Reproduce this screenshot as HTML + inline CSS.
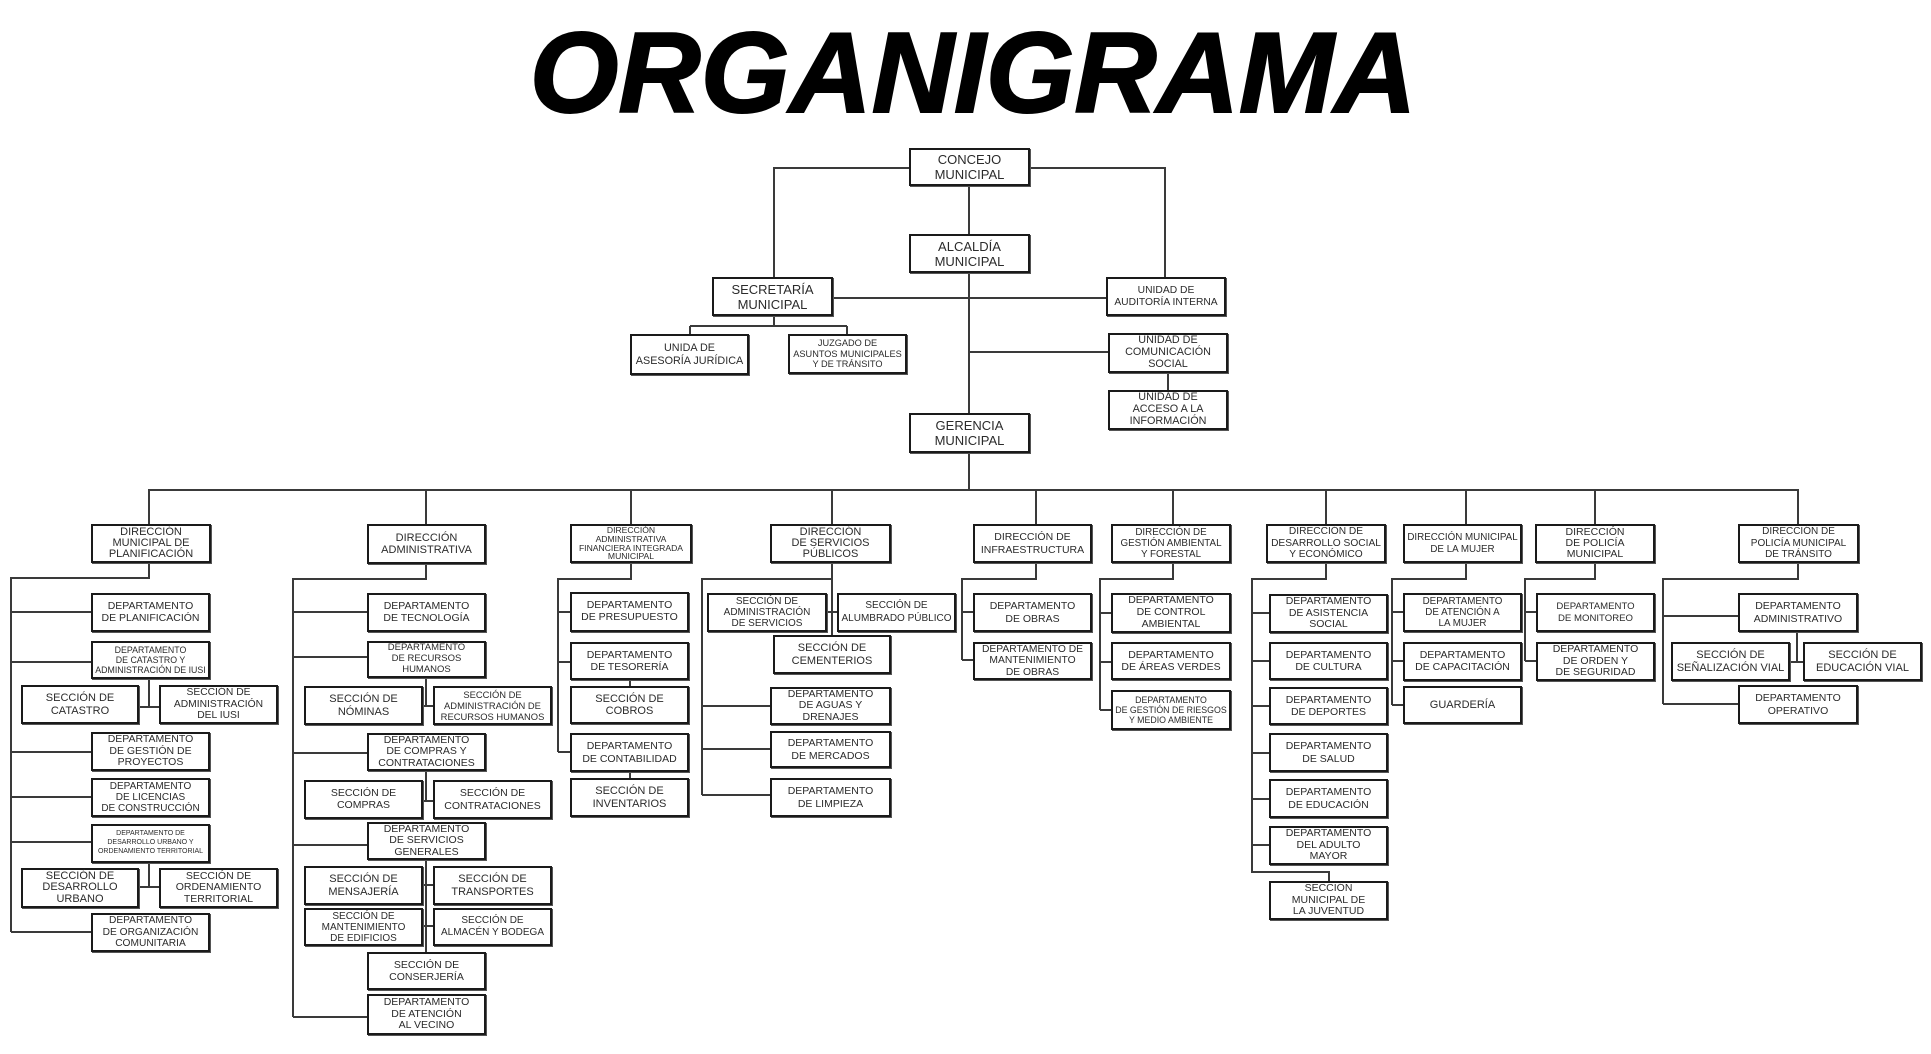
<!DOCTYPE html>
<html><head><meta charset="utf-8">
<style>
html,body{margin:0;padding:0;background:#fff;}
body{width:1931px;height:1054px;position:relative;overflow:hidden;}
.t{position:absolute;left:500px;top:17px;width:946px;text-align:center;font-family:"Liberation Sans",sans-serif;font-weight:bold;font-style:italic;font-size:114px;line-height:114px;color:#000;-webkit-text-stroke:2px #000;letter-spacing:0px;white-space:nowrap;}
.b{position:absolute;box-sizing:border-box;border:2px solid #1a1a1a;background:#fff;display:flex;align-items:center;justify-content:center;text-align:center;font-family:"Liberation Sans",sans-serif;font-size:10.5px;line-height:11.8px;color:#2b2b2b;box-shadow:1px 1px 0 #555;white-space:nowrap;}
.L{font-size:13px;line-height:15px;}
.s{font-size:11px;line-height:12.5px;}
svg{position:absolute;left:0;top:0;}
</style></head><body>
<div class="t">ORGANIGRAMA</div>
<svg width="1931" height="1054" viewBox="0 0 1931 1054">
<g fill="none" stroke="#3a3a3a" stroke-width="2" shape-rendering="crispEdges">
<path d="M909 168 H774 V277 M1030 168 H1165 V277 M969 186 V234 M969 273 V413 M833 298 H1106 M774 316 V326 M690 326 H847 M690 326 V334 M847 326 V334 M969 352 H1108 M1168 373 V390 M969 453 V490 M148 490 H1799"/>
<path d="M149 490 V524 M426 490 V524 M631 490 V524 M832 490 V524 M1036 490 V524 M1173 490 V524 M1326 490 V524 M1466 490 V524 M1595 490 V524 M1798 490 V524"/>
<path d="M149 563 V578 H11 V932 M11 612 H91 M11 662 H91 M11 752 H91 M11 797 H91 M11 842 H91 M11 932 H91 M149 679 V707 M139 707 H159 M149 863 V887 M139 887 H159"/>
<path d="M426 564 V579 H293 V1017 M293 612 H367 M293 657 H367 M293 753 H367 M293 845 H367 M293 1017 H367 M426 678 V706 M423 706 H433 M426 771 V801 M423 801 H433 M426 860 V952 M423 885 H433 M423 926 H433"/>
<path d="M631 563 V579 H558 V752 M558 612 H570 M558 662 H570 M558 752 H570 M630 680 V686 M630 772 V778"/>
<path d="M832 563 V635 M832 579 H702 V795 M702 706 H770 M702 749 H770 M702 795 H770 M827 612 H837"/>
<path d="M1036 563 V579 H962 V660 M962 612 H973 M962 660 H973"/>
<path d="M1173 563 V579 H1100 V710 M1100 613 H1111 M1100 662 H1111 M1100 710 H1111"/>
<path d="M1326 563 V579 H1252 V872 H1329 V881 M1252 613 H1269 M1252 661 H1269 M1252 706 H1269 M1252 753 H1269 M1252 799 H1269 M1252 845 H1269"/>
<path d="M1466 563 V579 H1392 V705 M1392 612 H1403 M1392 661 H1403 M1392 705 H1403"/>
<path d="M1595 563 V579 H1525 V661 M1525 612 H1536 M1525 661 H1536"/>
<path d="M1798 563 V579 H1663 V704 M1663 616 H1738 M1663 704 H1738 M1797 632 V662 M1790 662 H1803"/>
</g></svg>

<!-- top -->
<div class="b L" style="left:909px;top:148px;width:121px;height:38px">CONCEJO<br>MUNICIPAL</div>
<div class="b L" style="left:909px;top:234px;width:121px;height:39px">ALCALDÍA<br>MUNICIPAL</div>
<div class="b L" style="left:712px;top:277px;width:121px;height:39px">SECRETARÍA<br>MUNICIPAL</div>
<div class="b" style="left:1106px;top:277px;width:120px;height:39px;font-size:10.3px">UNIDAD DE<br>AUDITORÍA INTERNA</div>
<div class="b" style="left:630px;top:334px;width:119px;height:41px;font-size:10.8px;line-height:12.5px">UNIDA DE<br>ASESORÍA JURÍDICA</div>
<div class="b" style="left:788px;top:334px;width:119px;height:40px;font-size:9.2px;line-height:10.5px">JUZGADO DE<br>ASUNTOS MUNICIPALES<br>Y DE TRÁNSITO</div>
<div class="b" style="left:1108px;top:333px;width:120px;height:40px;font-size:10.8px;line-height:11.8px">UNIDAD DE<br>COMUNICACIÓN<br>SOCIAL</div>
<div class="b" style="left:1108px;top:390px;width:120px;height:40px;font-size:10.8px;line-height:11.8px">UNIDAD DE<br>ACCESO A LA<br>INFORMACIÓN</div>
<div class="b L" style="left:909px;top:413px;width:121px;height:40px">GERENCIA<br>MUNICIPAL</div>

<!-- col1 -->
<div class="b" style="left:91px;top:524px;width:120px;height:39px;font-size:11px;line-height:11.3px">DIRECCIÓN<br>MUNICIPAL DE<br>PLANIFICACIÓN</div>
<div class="b" style="left:91px;top:593px;width:119px;height:39px">DEPARTAMENTO<br>DE PLANIFICACIÓN</div>
<div class="b" style="left:91px;top:641px;width:119px;height:38px;font-size:8.8px;line-height:10.3px">DEPARTAMENTO<br>DE CATASTRO Y<br>ADMINISTRACIÓN DE IUSI</div>
<div class="b s" style="left:21px;top:685px;width:118px;height:39px">SECCIÓN DE<br>CATASTRO</div>
<div class="b" style="left:159px;top:685px;width:119px;height:39px;font-size:10.3px;line-height:11.5px">SECCIÓN DE<br>ADMINISTRACIÓN<br>DEL IUSI</div>
<div class="b" style="left:91px;top:732px;width:119px;height:39px">DEPARTAMENTO<br>DE GESTIÓN DE<br>PROYECTOS</div>
<div class="b" style="left:91px;top:778px;width:119px;height:39px;font-size:10px;line-height:11.3px">DEPARTAMENTO<br>DE LICENCIAS<br>DE CONSTRUCCIÓN</div>
<div class="b" style="left:91px;top:824px;width:119px;height:39px;font-size:7px;line-height:8.8px">DEPARTAMENTO DE<br>DESARROLLO URBANO Y<br>ORDENAMIENTO TERRITORIAL</div>
<div class="b s" style="left:21px;top:868px;width:118px;height:40px;line-height:11.5px">SECCIÓN DE<br>DESARROLLO<br>URBANO</div>
<div class="b" style="left:159px;top:868px;width:119px;height:40px;line-height:11.5px">SECCIÓN DE<br>ORDENAMIENTO<br>TERRITORIAL</div>
<div class="b" style="left:91px;top:913px;width:119px;height:39px;font-size:10.2px;line-height:11.5px">DEPARTAMENTO<br>DE ORGANIZACIÓN<br>COMUNITARIA</div>

<!-- col2 -->
<div class="b s" style="left:367px;top:524px;width:119px;height:40px">DIRECCIÓN<br>ADMINISTRATIVA</div>
<div class="b" style="left:367px;top:593px;width:119px;height:39px">DEPARTAMENTO<br>DE TECNOLOGÍA</div>
<div class="b" style="left:367px;top:641px;width:119px;height:37px;font-size:9.5px;line-height:10.8px">DEPARTAMENTO<br>DE RECURSOS<br>HUMANOS</div>
<div class="b s" style="left:304px;top:686px;width:119px;height:39px">SECCIÓN DE<br>NÓMINAS</div>
<div class="b" style="left:433px;top:686px;width:119px;height:39px;font-size:9.4px;line-height:11px">SECCIÓN DE<br>ADMINISTRACIÓN DE<br>RECURSOS HUMANOS</div>
<div class="b" style="left:367px;top:733px;width:119px;height:38px;line-height:11.3px">DEPARTAMENTO<br>DE COMPRAS Y<br>CONTRATACIONES</div>
<div class="b" style="left:304px;top:780px;width:119px;height:39px">SECCIÓN DE<br>COMPRAS</div>
<div class="b" style="left:433px;top:780px;width:119px;height:39px;line-height:12.5px">SECCIÓN DE<br>CONTRATACIONES</div>
<div class="b" style="left:367px;top:822px;width:119px;height:38px;line-height:11.3px">DEPARTAMENTO<br>DE SERVICIOS<br>GENERALES</div>
<div class="b s" style="left:304px;top:866px;width:119px;height:39px">SECCIÓN DE<br>MENSAJERÍA</div>
<div class="b s" style="left:433px;top:866px;width:119px;height:39px">SECCIÓN DE<br>TRANSPORTES</div>
<div class="b" style="left:304px;top:908px;width:119px;height:38px;font-size:10px;line-height:11px">SECCIÓN DE<br>MANTENIMIENTO<br>DE EDIFICIOS</div>
<div class="b" style="left:433px;top:908px;width:119px;height:38px;font-size:10px;line-height:12.5px">SECCIÓN DE<br>ALMACÉN Y BODEGA</div>
<div class="b" style="left:367px;top:952px;width:119px;height:38px;line-height:12.5px">SECCIÓN DE<br>CONSERJERÍA</div>
<div class="b" style="left:367px;top:994px;width:119px;height:41px">DEPARTAMENTO<br>DE ATENCIÓN<br>AL VECINO</div>

<!-- col3 -->
<div class="b" style="left:570px;top:524px;width:122px;height:39px;font-size:8.6px;line-height:8.9px">DIRECCIÓN<br>ADMINISTRATIVA<br>FINANCIERA INTEGRADA<br>MUNICIPAL</div>
<div class="b" style="left:570px;top:592px;width:119px;height:40px">DEPARTAMENTO<br>DE PRESUPUESTO</div>
<div class="b" style="left:570px;top:642px;width:119px;height:38px;line-height:12.5px">DEPARTAMENTO<br>DE TESORERÍA</div>
<div class="b s" style="left:570px;top:686px;width:119px;height:38px">SECCIÓN DE<br>COBROS</div>
<div class="b" style="left:570px;top:733px;width:119px;height:39px;line-height:12.5px">DEPARTAMENTO<br>DE CONTABILIDAD</div>
<div class="b s" style="left:570px;top:778px;width:119px;height:39px">SECCIÓN DE<br>INVENTARIOS</div>

<!-- col4 -->
<div class="b" style="left:770px;top:524px;width:121px;height:39px;font-size:11px;line-height:11.3px">DIRECCIÓN<br>DE SERVICIOS<br>PÚBLICOS</div>
<div class="b" style="left:707px;top:593px;width:120px;height:39px;font-size:10px;line-height:11px">SECCIÓN DE<br>ADMINISTRACIÓN<br>DE SERVICIOS</div>
<div class="b" style="left:837px;top:593px;width:119px;height:39px;font-size:10px;line-height:12.5px">SECCIÓN DE<br>ALUMBRADO PÚBLICO</div>
<div class="b s" style="left:773px;top:635px;width:118px;height:39px">SECCIÓN DE<br>CEMENTERIOS</div>
<div class="b" style="left:770px;top:687px;width:121px;height:38px;line-height:11.3px">DEPARTAMENTO<br>DE AGUAS Y<br>DRENAJES</div>
<div class="b" style="left:770px;top:731px;width:121px;height:37px;line-height:12.5px">DEPARTAMENTO<br>DE MERCADOS</div>
<div class="b" style="left:770px;top:778px;width:121px;height:39px;line-height:12.5px">DEPARTAMENTO<br>DE LIMPIEZA</div>

<!-- col5 -->
<div class="b" style="left:973px;top:524px;width:119px;height:39px;font-size:10.5px;line-height:12.5px">DIRECCIÓN DE<br>INFRAESTRUCTURA</div>
<div class="b" style="left:973px;top:593px;width:119px;height:39px;line-height:12.5px">DEPARTAMENTO<br>DE OBRAS</div>
<div class="b" style="left:973px;top:642px;width:119px;height:38px;font-size:10.3px;line-height:11.3px">DEPARTAMENTO DE<br>MANTENIMIENTO<br>DE OBRAS</div>

<!-- col6 -->
<div class="b" style="left:1111px;top:524px;width:120px;height:39px;font-size:9.8px;line-height:11.3px">DIRECCIÓN DE<br>GESTIÓN AMBIENTAL<br>Y FORESTAL</div>
<div class="b" style="left:1111px;top:593px;width:120px;height:40px">DEPARTAMENTO<br>DE CONTROL<br>AMBIENTAL</div>
<div class="b" style="left:1111px;top:642px;width:120px;height:38px;line-height:12.5px">DEPARTAMENTO<br>DE ÁREAS VERDES</div>
<div class="b" style="left:1111px;top:690px;width:120px;height:40px;font-size:8.8px;line-height:10px">DEPARTAMENTO<br>DE GESTIÓN DE RIESGOS<br>Y MEDIO AMBIENTE</div>

<!-- col7 -->
<div class="b" style="left:1266px;top:524px;width:120px;height:39px;font-size:10.2px;line-height:11.8px">DIRECCIÓN DE<br>DESARROLLO SOCIAL<br>Y ECONÓMICO</div>
<div class="b" style="left:1269px;top:594px;width:119px;height:39px">DEPARTAMENTO<br>DE ASISTENCIA<br>SOCIAL</div>
<div class="b" style="left:1269px;top:642px;width:119px;height:38px;line-height:12.5px">DEPARTAMENTO<br>DE CULTURA</div>
<div class="b" style="left:1269px;top:687px;width:119px;height:38px;line-height:12.5px">DEPARTAMENTO<br>DE DEPORTES</div>
<div class="b" style="left:1269px;top:733px;width:119px;height:39px;line-height:12.5px">DEPARTAMENTO<br>DE SALUD</div>
<div class="b" style="left:1269px;top:779px;width:119px;height:39px;line-height:12.5px">DEPARTAMENTO<br>DE EDUCACIÓN</div>
<div class="b" style="left:1269px;top:826px;width:119px;height:39px">DEPARTAMENTO<br>DEL ADULTO<br>MAYOR</div>
<div class="b" style="left:1269px;top:881px;width:119px;height:39px">SECCIÓN<br>MUNICIPAL DE<br>LA JUVENTUD</div>

<!-- col8 -->
<div class="b" style="left:1403px;top:524px;width:119px;height:39px;font-size:9.8px;line-height:11.3px">DIRECCIÓN MUNICIPAL<br>DE LA MUJER</div>
<div class="b" style="left:1403px;top:593px;width:119px;height:39px;font-size:9.8px;line-height:11px">DEPARTAMENTO<br>DE ATENCIÓN A<br>LA MUJER</div>
<div class="b" style="left:1403px;top:642px;width:119px;height:39px;line-height:11.5px">DEPARTAMENTO<br>DE CAPACITACIÓN</div>
<div class="b s" style="left:1403px;top:686px;width:119px;height:38px">GUARDERÍA</div>

<!-- col9 -->
<div class="b" style="left:1535px;top:524px;width:120px;height:39px;line-height:11.3px">DIRECCIÓN<br>DE POLICÍA<br>MUNICIPAL</div>
<div class="b" style="left:1536px;top:593px;width:119px;height:39px;font-size:9.6px;line-height:11.5px">DEPARTAMENTO<br>DE MONITOREO</div>
<div class="b" style="left:1536px;top:642px;width:119px;height:39px;line-height:11.5px">DEPARTAMENTO<br>DE ORDEN Y<br>DE SEGURIDAD</div>

<!-- col10 -->
<div class="b" style="left:1738px;top:524px;width:121px;height:39px;font-size:10px;line-height:11.5px">DIRECCIÓN DE<br>POLICÍA MUNICIPAL<br>DE TRÁNSITO</div>
<div class="b" style="left:1738px;top:593px;width:120px;height:39px;line-height:12.5px">DEPARTAMENTO<br>ADMINISTRATIVO</div>
<div class="b" style="left:1671px;top:642px;width:119px;height:39px;font-size:11px;line-height:13px">SECCIÓN DE<br>SEÑALIZACIÓN VIAL</div>
<div class="b" style="left:1803px;top:642px;width:119px;height:39px;font-size:11px;line-height:13px">SECCIÓN DE<br>EDUCACIÓN VIAL</div>
<div class="b" style="left:1738px;top:685px;width:120px;height:39px;line-height:12.5px">DEPARTAMENTO<br>OPERATIVO</div>
</body></html>
